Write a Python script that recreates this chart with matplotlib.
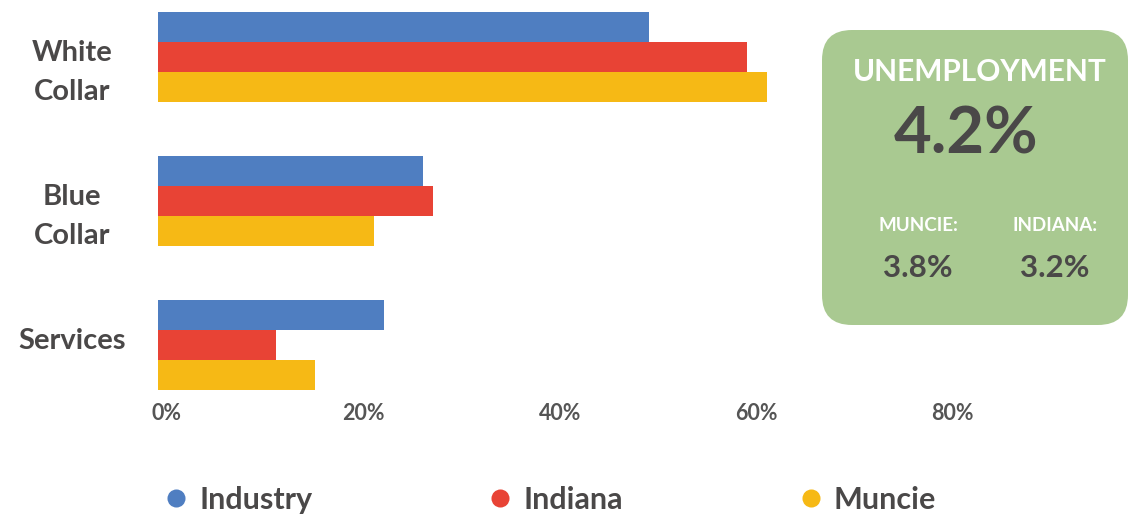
import matplotlib
matplotlib.use("Agg")
import matplotlib.pyplot as plt
import numpy as np
from matplotlib.patches import FancyBboxPatch
from matplotlib.lines import Line2D
from matplotlib.transforms import IdentityTransform, ScaledTranslation, blended_transform_factory

# ---- data ----
categories = ["White\nCollar", "Blue\nCollar", "Services"]
series_names = ["Industry", "Indiana", "Muncie"]
industry = [50, 27, 23]
indiana = [60, 28, 12]
muncie = [62, 22, 16]
x_ticks = [0, 20, 40, 60, 80]
x_tick_labels = ["0%", "20%", "40%", "60%", "80%"]
unemp_title = "UNEMPLOYMENT"
unemp_main = "4.2%"
unemp_sub_labels = ["MUNCIE:", "INDIANA:"]
unemp_sub_values = ["3.8%", "3.2%"]

colors = ["#4f7ec1", "#e84335", "#f6b915"]
text_dark = "#4a4848"
box_green = "#a9c991"

plt.rcParams["font.family"] = ["Lato", "DejaVu Sans"]

W, H = 1130, 523
fig = plt.figure(figsize=(W / 100, H / 100), dpi=100)
fig.patch.set_facecolor("white")

ax_left = 158 / W
ax_bottom = 1 - 395 / H
ax_top = 1 - 5 / H
ax = fig.add_axes([ax_left, ax_bottom, 1 - ax_left, ax_top - ax_bottom])

y = np.arange(len(categories))
h = 0.21
for i, (vals, c) in enumerate(zip([industry, indiana, muncie], colors)):
    ax.barh(y + (i - 1) * h, vals, height=h, color=c, edgecolor="none")

ax.set_xlim(0, (W - 158) / 9.82)
ax.set_ylim(2 + 50 / 144, -52 / 144)

# x tick labels (slightly offset to the right of the tick, as in the original)
ax.set_xticks(x_ticks)
ax.set_xticklabels([])
xtrans = blended_transform_factory(ax.transData, ax.transAxes) + \
    ScaledTranslation(9 / 100, -18 / 100, fig.dpi_scale_trans)
for xv, lab in zip(x_ticks, x_tick_labels):
    ax.text(xv, 0, lab, transform=xtrans, ha="center", va="center",
            fontsize=15.5, color="#555555", fontweight="bold", clip_on=False)

# category labels (top of the text block just above the group centre)
ytrans = blended_transform_factory(ax.transAxes, ax.transData) + \
    ScaledTranslation(-86 / 100, 17 / 100, fig.dpi_scale_trans)
ax.set_yticks(y)
ax.set_yticklabels([])
for yv, lab in zip(y, categories):
    ax.text(0, yv, lab, transform=ytrans, ha="center", va="top",
            multialignment="center", linespacing=1.63, fontsize=21,
            color=text_dark, fontweight="bold", clip_on=False)

ax.tick_params(axis="both", length=0)
for s in ax.spines.values():
    s.set_visible(False)
ax.set_facecolor("none")

# ---- unemployment box ----
bx0, bx1 = 822, 1128
by_top, by_bot = 30, 325
box = FancyBboxPatch((bx0, H - by_bot), bx1 - bx0, by_bot - by_top,
                     boxstyle="round,pad=0,rounding_size=30",
                     facecolor=box_green, edgecolor="none",
                     transform=IdentityTransform())
fig.add_artist(box)

def ft(x, yy, s, **kw):
    fig.text(x / W, 1 - yy / H, s, ha="center", va="center", **kw)

ft(980, 72, unemp_title, fontsize=21.5, color="white", fontweight="bold")
ft(966, 135, unemp_main, fontsize=47, color=text_dark, fontweight="bold")
ft(918, 226, unemp_sub_labels[0], fontsize=13.5, color="white", fontweight="bold")
ft(1055, 226, unemp_sub_labels[1], fontsize=13.5, color="white", fontweight="bold")
ft(918, 268, unemp_sub_values[0], fontsize=22.5, color=text_dark, fontweight="bold")
ft(1055, 268, unemp_sub_values[1], fontsize=22.5, color=text_dark, fontweight="bold")

# ---- legend ----
handles = [Line2D([0], [0], marker="o", linestyle="none", markersize=13,
                  markerfacecolor=c, markeredgecolor="none") for c in colors]
leg = fig.legend(handles, series_names, ncol=3, frameon=False,
                 loc="center left", bbox_to_anchor=(164 / W, 1 - 500 / H),
                 fontsize=22, handlelength=0.8, handletextpad=0.35,
                 columnspacing=5.75, borderpad=0, borderaxespad=0)
for t in leg.get_texts():
    t.set_color(text_dark)
    t.set_fontweight("bold")

fig.savefig("out.png", dpi=100)
